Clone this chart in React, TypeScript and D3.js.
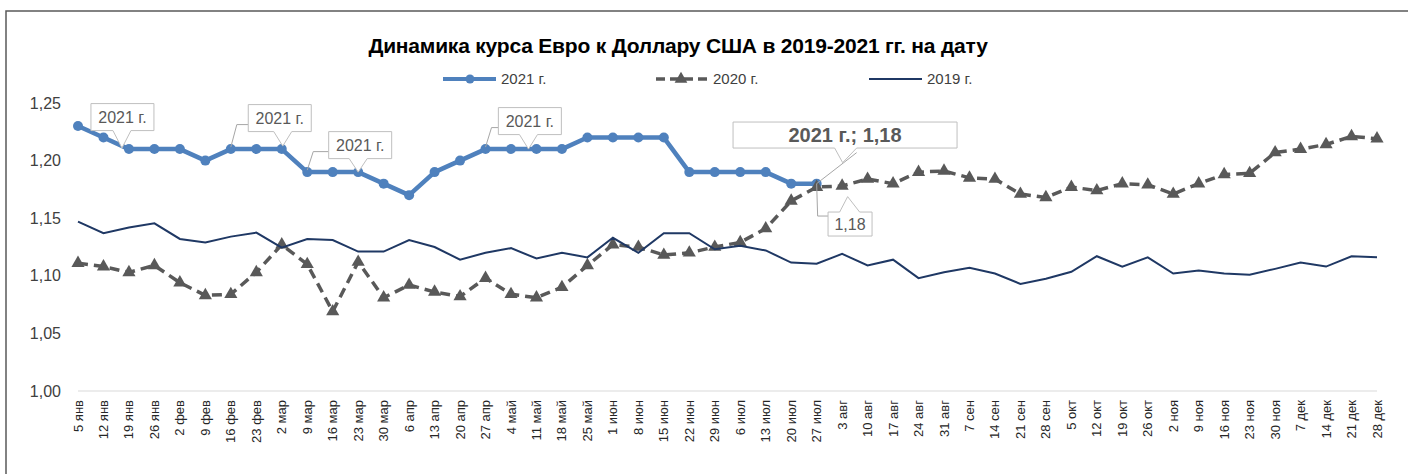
import React from "react";
import * as d3 from "d3";

const categories = [
  "5 янв", "12 янв", "19 янв", "26 янв", "2 фев", "9 фев", "16 фев", "23 фев",
  "2 мар", "9 мар", "16 мар", "23 мар", "30 мар", "6 апр", "13 апр", "20 апр",
  "27 апр", "4 май", "11 май", "18 май", "25 май", "1 июн", "8 июн", "15 июн",
  "22 июн", "29 июн", "6 июл", "13 июл", "20 июл", "27 июл", "3 авг", "10 авг",
  "17 авг", "24 авг", "31 авг", "7 сен", "14 сен", "21 сен", "28 сен", "5 окт",
  "12 окт", "19 окт", "26 окт", "2 ноя", "9 ноя", "16 ноя", "23 ноя", "30 ноя",
  "7 дек", "14 дек", "21 дек", "28 дек",
];

const values2021 = [
  1.23, 1.22, 1.21, 1.21, 1.21, 1.2, 1.21, 1.21, 1.21, 1.19, 1.19, 1.19, 1.18,
  1.17, 1.19, 1.2, 1.21, 1.21, 1.21, 1.21, 1.22, 1.22, 1.22, 1.22, 1.19, 1.19,
  1.19, 1.19, 1.18, 1.18,
];

const values2020 = [
  1.111, 1.108, 1.103, 1.109, 1.094, 1.083, 1.084, 1.103, 1.127, 1.11, 1.069,
  1.112, 1.081, 1.092, 1.086, 1.082, 1.098, 1.084, 1.081, 1.09, 1.109, 1.127,
  1.125, 1.118, 1.12, 1.125, 1.129, 1.141, 1.165, 1.177, 1.178, 1.184, 1.18,
  1.19, 1.191, 1.185, 1.184, 1.171, 1.168, 1.177, 1.174, 1.18, 1.179, 1.171,
  1.18, 1.188, 1.189, 1.207, 1.21, 1.214, 1.221, 1.219,
];

const values2019 = [
  1.147, 1.137, 1.142, 1.1455, 1.132, 1.129, 1.134, 1.1375, 1.1245, 1.132,
  1.131, 1.121, 1.121, 1.131, 1.125, 1.114, 1.12, 1.124, 1.115, 1.12, 1.116,
  1.133, 1.12, 1.137, 1.137, 1.123, 1.126, 1.122, 1.1115, 1.1105, 1.119, 1.109,
  1.114, 1.098, 1.103, 1.107, 1.102, 1.093, 1.0975, 1.1035, 1.117, 1.108,
  1.116, 1.102, 1.1045, 1.102, 1.101, 1.106, 1.1115, 1.108, 1.117, 1.116,
];

const yTicks = [1.0, 1.05, 1.1, 1.15, 1.2, 1.25];
const seriesNames = ["2021 г.", "2020 г.", "2019 г."];
const titleText = "Динамика курса Евро к Доллару США в 2019-2021 гг. на дату";

// callout annotations on the 2021 series (index of point, text)
const calloutIdx = [2, 8, 11, 18];
const leaderIdx = [null, 6, 9, 16];
const lastIdx = 29;

const W = 1408;
const H = 474;
const FONT = "'Liberation Sans', Arial, sans-serif";

const C2021 = "#4F81BD";
const C2020 = "#595959";
const C2019 = "#1F3864";

export default function App() {
  const x = d3.scalePoint<string>().domain(categories).range([78, 1377]);
  const y = d3.scaleLinear().domain([1.0, 1.25]).range([391, 103]);
  const fmt = (v: number) => d3.format(".2f")(v).replace(".", ",");

  const line = d3
    .line<number>()
    .x((_, i) => x(categories[i]) as number)
    .y((d) => y(d));

  const tri = d3.symbol().type(d3.symbolTriangle).size(75)() as string;
  const triLeg = d3.symbol().type(d3.symbolTriangle).size(70)() as string;

  const px = (i: number) => x(categories[i]) as number;
  const py = (i: number) => y(values2021[i]);

  // callout geometry (relative to anchor)
  const boxW = 63;
  const boxH = 27;
  const callouts = calloutIdx.map((idx, k) => {
    const ax = px(idx);
    const ay = py(idx);
    const offs = [
      { dx: -6.5, dy: -32, tx: -7, ty: -1 },
      { dx: -2, dy: -31, tx: 1, ty: -3 },
      { dx: 2, dy: -27, tx: 0, ty: 0 },
      { dx: -6.6, dy: -28, tx: -8, ty: 0 },
    ][k];
    const cx = ax + offs.dx;
    const cy = ay + offs.dy;
    const x0 = cx - boxW / 2;
    const x1 = cx + boxW / 2;
    const y0 = cy - boxH / 2;
    const y1 = cy + boxH / 2;
    const tx = ax + offs.tx;
    const ty = ay + offs.ty;
    const bx0 = tx - 9;
    const bx1 = tx + 9;
    const path = `M${x0},${y0}H${x1}V${y1}H${bx1}L${tx},${ty}L${bx0},${y1}H${x0}Z`;
    let leader: string | null = null;
    const li = leaderIdx[k];
    if (li !== null) {
      const lx = px(li);
      const ly = py(li);
      leader = `M${lx},${ly - 2}L${lx + 6},${y1 - 7}L${x0},${y1 - 7}`;
    }
    return { cx, cy, path, leader, key: idx };
  });

  // big callout for last point
  const lx = px(lastIdx);
  const ly = py(lastIdx);
  const big = (() => {
    const cx = lx + 28.4;
    const cy = ly - 48.6;
    const w = 224;
    const h = 26;
    const x0 = cx - w / 2;
    const x1 = cx + w / 2;
    const y0 = cy - h / 2;
    const y1 = cy + h / 2;
    const tx = lx + 26;
    const ty = ly - 21;
    const path = `M${x0},${y0}H${x1}V${y1}H${tx + 14}L${tx},${ty}L${tx - 8},${y1}H${x0}Z`;
    const leader = `M${lx},${ly}L${lx + 40},${ly - 31}`;
    return { cx, cy, path, leader };
  })();
  const small = (() => {
    const cx = lx + 33.4;
    const cy = ly + 40.4;
    const w = 44;
    const h = 24;
    const x0 = cx - w / 2;
    const x1 = cx + w / 2;
    const y0 = cy - h / 2;
    const y1 = cy + h / 2;
    const tx = lx + 31;
    const ty = ly + 13;
    const path = `M${x0},${y0}H${tx - 8}L${tx},${ty}L${tx + 12},${y0}H${x1}V${y1}H${x0}Z`;
    const leader = `M${lx},${ly}L${lx + 1},${y0 + 4}L${x0},${y0 + 4}`;
    return { cx, cy, path, leader };
  })();

  const legendY = 79;

  return (
    <svg
      width={W}
      height={H}
      style={{ position: "absolute", left: 0, top: 0, background: "#fff" }}
      fontFamily={FONT}
    >
      <rect x={0} y={0} width={W} height={H} fill="#fff" />
      {/* chart border */}
      <rect x={6} y={11} width={W + 20} height={H + 20} fill="none" stroke="#595959" strokeWidth={1.5} />

      {/* title */}
      <text x={678} y={53} textAnchor="middle" fontSize={21} fontWeight="bold" fill="#000" letterSpacing={-0.2}>
        {titleText}
      </text>

      {/* legend */}
      <g fontSize={15} fill="#404040">
        <line x1={443} x2={496} y1={legendY} y2={legendY} stroke={C2021} strokeWidth={4} />
        <circle cx={470} cy={legendY} r={4.5} fill={C2021} />
        <text x={501} y={legendY + 5}>{seriesNames[0]}</text>

        <line x1={656} x2={708} y1={legendY} y2={legendY} stroke={C2020} strokeWidth={3.5} strokeDasharray="9,5" />
        <path d={triLeg} transform={`translate(681,${legendY})`} fill={C2020} />
        <text x={713} y={legendY + 5}>{seriesNames[1]}</text>

        <line x1={869} x2={922} y1={legendY} y2={legendY} stroke={C2019} strokeWidth={2} />
        <text x={927} y={legendY + 5}>{seriesNames[2]}</text>
      </g>

      {/* y axis labels */}
      <g fontSize={16} fill="#404040" textAnchor="end">
        {yTicks.map((t) => (
          <text key={t} x={61} y={y(t) + 5.5}>
            {fmt(t)}
          </text>
        ))}
      </g>

      {/* x axis line */}
      <line x1={x(categories[0])} x2={x(categories[categories.length - 1])} y1={y(1.0)} y2={y(1.0)} stroke="#d9d9d9" strokeWidth={1} />

      {/* x axis labels */}
      <g fontSize={13} fill="#262626" textAnchor="end">
        {categories.map((c) => (
          <text key={c} transform={`translate(${(x(c) as number) + 4.5},${400}) rotate(-90)`}>
            {c}
          </text>
        ))}
      </g>

      {/* 2021 */}
      <path d={line(values2021) as string} fill="none" stroke={C2021} strokeWidth={4.5} strokeLinejoin="round" />
      {values2021.map((v, i) => (
        <circle key={i} cx={px(i)} cy={y(v)} r={5} fill={C2021} />
      ))}

      {/* 2020 */}
      <path d={line(values2020) as string} fill="none" stroke={C2020} strokeWidth={3.5} strokeDasharray="10,6" />
      {values2020.map((v, i) => (
        <path key={i} d={tri} transform={`translate(${px(i)},${y(v)})`} fill={C2020} />
      ))}

      {/* 2019 */}
      <path d={line(values2019) as string} fill="none" stroke={C2019} strokeWidth={2} />

      {/* callouts */}
      <g fontSize={16} fill="#595959">
        {callouts.map((c) => (
          <g key={c.key}>
            {c.leader && <path d={c.leader} fill="none" stroke="#a6a6a6" strokeWidth={1} />}
            <path d={c.path} fill="#fff" stroke="#bfbfbf" strokeWidth={1} />
            <text x={c.cx} y={c.cy + 6} textAnchor="middle">
              {seriesNames[0]}
            </text>
          </g>
        ))}
        <path d={big.leader} fill="none" stroke="#a6a6a6" strokeWidth={1} />
        <path d={big.path} fill="#fff" stroke="#bfbfbf" strokeWidth={1} />
        <text x={big.cx} y={big.cy + 7} textAnchor="middle" fontSize={20} fontWeight="bold">
          {`${seriesNames[0]}; ${fmt(values2021[lastIdx])}`}
        </text>
        <path d={small.leader} fill="none" stroke="#a6a6a6" strokeWidth={1} />
        <path d={small.path} fill="#fff" stroke="#bfbfbf" strokeWidth={1} />
        <text x={small.cx} y={small.cy + 6} textAnchor="middle">
          {fmt(values2021[lastIdx])}
        </text>
      </g>
    </svg>
  );
}
